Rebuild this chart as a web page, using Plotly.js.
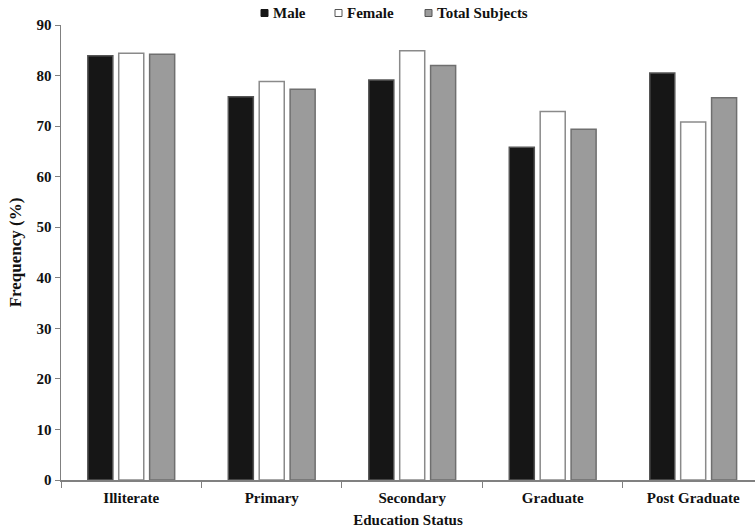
<!DOCTYPE html>
<html>
<head>
<meta charset="utf-8">
<script src="https://cdn.plot.ly/plotly-3.0.1.min.js"></script>
<style>
  html, body { margin: 0; padding: 0; background: #fff; }
  #chart { width: 755px; height: 531px; }
</style>
</head>
<body>
<div id="chart"></div>
<script>
// Education status categories and frequency (%) per group
const categories = ["Illiterate", "Primary", "Secondary", "Graduate", "Post Graduate"];
const seriesNames = ["Male", "Female", "Total Subjects"];
const male = [83.9, 75.8, 79.1, 65.8, 80.5];
const female = [84.4, 78.8, 84.9, 72.9, 70.8];
const total = [84.2, 77.3, 82.0, 69.4, 75.6];
const yTicks = [0, 10, 20, 30, 40, 50, 60, 70, 80, 90];

const serif = "Liberation Serif, Times New Roman, serif";
const ink = "#111111";

// fill / outline per series
const fills = ["#161616", "#ffffff", "#9b9b9b"];
const edges = ["#555555", "#8a8a8a", "#6f6f6f"];
const seriesValues = [male, female, total];

const data = seriesNames.map((name, i) => ({
  type: "bar",
  name: name,
  x: categories,
  y: seriesValues[i],
  marker: { color: fills[i], line: { color: edges[i], width: 1.5 } },
  showlegend: false,
  hoverinfo: "skip"
}));

// Compact key above the plot: small square swatch followed by the series name
const margin = { l: 61, r: 0, t: 25, b: 51 };
const plotW = 755 - margin.l - margin.r;
const plotH = 531 - margin.t - margin.b;
const keyLeft = [261, 335, 425];   // swatch left edges, px
const keyMidY = 13;                // key centre line, px from top
const swatch = 7;
const px2x = (p) => (p - margin.l) / plotW;
const px2y = (p) => (531 - margin.b - p) / plotH;

const shapes = seriesNames.map((name, i) => ({
  type: "rect",
  xref: "paper", yref: "paper",
  x0: px2x(keyLeft[i]), x1: px2x(keyLeft[i] + swatch),
  y0: px2y(keyMidY + swatch / 2), y1: px2y(keyMidY - swatch / 2),
  fillcolor: fills[i],
  line: { color: i === 0 ? "#161616" : "#555555", width: 1 }
}));

const annotations = seriesNames.map((name, i) => ({
  xref: "paper", yref: "paper",
  x: px2x(keyLeft[i] + swatch + 3), y: px2y(keyMidY),
  xanchor: "left", yanchor: "middle",
  text: name,
  showarrow: false,
  font: { family: serif, size: 15, weight: "bold", color: ink }
}));

const layout = {
  width: 755,
  height: 531,
  margin: margin,
  paper_bgcolor: "#ffffff",
  plot_bgcolor: "#ffffff",
  font: { family: serif, size: 15, color: ink },
  barmode: "group",
  bargap: 0.34,
  bargroupgap: 0.19,
  showlegend: false,
  shapes: shapes,
  annotations: annotations,
  xaxis: {
    type: "category",
    range: [-0.5, 4.44],
    showline: true,
    linecolor: "#808080",
    linewidth: 1.5,
    ticks: "outside",
    tickson: "boundaries",
    ticklen: 6,
    tickcolor: "#808080",
    ticklabelstandoff: 3,
    showgrid: false,
    zeroline: false,
    tickfont: { family: serif, size: 15, weight: "bold", color: ink },
    title: {
      text: "Education Status",
      font: { family: serif, size: 15, weight: "bold", color: ink },
      standoff: 10
    }
  },
  yaxis: {
    range: [0, 90],
    tickvals: yTicks,
    ticktext: yTicks.map(String),
    showline: true,
    linecolor: "#808080",
    linewidth: 1.5,
    ticks: "outside",
    ticklen: 5,
    tickcolor: "#808080",
    showgrid: false,
    zeroline: false,
    tickfont: { family: serif, size: 15, weight: "bold", color: ink },
    title: {
      text: "Frequency (%)",
      font: { family: serif, size: 17, weight: "bold", color: ink },
      standoff: 10
    }
  }
};

Plotly.newPlot("chart", data, layout, { displayModeBar: false, staticPlot: true });
</script>
</body>
</html>
